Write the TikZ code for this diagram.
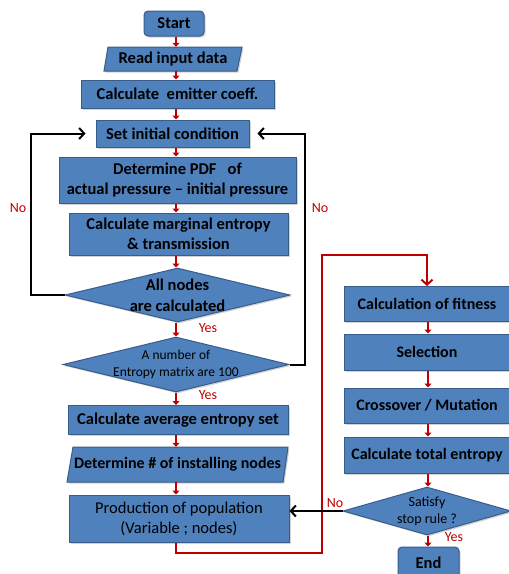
\documentclass[tikz,border=0pt]{standalone}
\usepackage{fontspec}
\setmainfont{Carlito}
\usetikzlibrary{shapes.geometric,arrows.meta,shadows,calc}
\definecolor{boxblue}{HTML}{4F81BD}
\definecolor{boxline}{HTML}{385D8A}
\definecolor{arrred}{HTML}{C00000}
\begin{document}
\begin{tikzpicture}[x=1pt,y=-1pt,
  shad/.style={drop shadow={opacity=0.35,shadow xshift=1.5pt,shadow yshift=-1.5pt}},
  box/.style={rectangle,draw=boxline,line width=1pt,fill=boxblue,inner sep=1pt,align=center,
    font=\bfseries\fontsize{16.5}{20.5}\selectfont,shad},
  term/.style={box,rounded corners=4pt},
  plain/.style={rectangle,inner sep=0pt,align=center,font=\bfseries\fontsize{16.5}{20}\selectfont},
  para/.style={draw=boxline,line width=1pt,fill=boxblue,shad},
  dia/.style={diamond,draw=boxline,fill=boxblue,line width=1pt,inner sep=0pt,aspect=4,shad},
  flow/.style={arrred,line width=2.2pt,-{Triangle[length=4pt,width=7pt]}},
  loopar/.style={black,line width=2pt,-{Straight Barb[length=5pt,width=11pt]}},
  redar/.style={arrred,line width=2pt,-{Straight Barb[length=5pt,width=11pt]}},
  lab/.style={text=arrred,font=\fontsize{14}{15}\selectfont,inner sep=0pt}]
\useasboundingbox (0,0) rectangle (509,574);
\fill[white] (0,0) rectangle (509,574);
% left column
\node[term,minimum width=60pt,minimum height=25pt] (start) at (174,23.5) {Start};
\draw[para] (108,47) -- (242,47) -- (237,71) -- (104,71) -- cycle;
\node[plain,minimum width=134pt,minimum height=24pt] (read) at (173,59) {Read input data};
\node[box,minimum width=193pt,minimum height=28pt] (emit) at (177.5,94) {Calculate\ \ emitter coeff.};
\node[box,minimum width=153pt,minimum height=27pt] (set) at (172.5,133.5) {Set initial condition};
\node[box,minimum width=237pt,minimum height=46pt] (pdf) at (177.5,180) {Determine PDF\ \ \ of\\actual pressure -- initial pressure};
\node[box,minimum width=219pt,minimum height=42pt] (marg) at (178.5,234) {Calculate marginal entropy\\\& transmission};
\node[dia,minimum width=225pt,minimum height=54pt] (d1) at (177.5,295) {};
\node[align=center,inner sep=0pt,font=\bfseries\fontsize{16.5}{21}\selectfont] (d1t) at (d1) {All nodes\\are calculated};
\node[dia,minimum width=226pt,minimum height=55pt] (d2) at (176,364.5) {};
\node[align=center,inner sep=0pt,font=\fontsize{13.5}{17}\selectfont] (d2t) at (d2) {A number of\\Entropy matrix are 100};
\node[box,minimum width=220pt,minimum height=29pt] (avg) at (178,420) {Calculate average entropy set};
\draw[para] (73,447) -- (288,447) -- (283,482) -- (67,482) -- cycle;
\node[plain,minimum width=216pt,minimum height=35pt,font=\bfseries\fontsize{16}{20}\selectfont] (det) at (177.5,464.5) {Determine \# of installing nodes};
\node[box,minimum width=220pt,minimum height=47pt,font=\fontsize{16.5}{20}\selectfont] (prod) at (179,518.5) {Production of population\\(Variable ; nodes)};
% right column
\node[box,minimum width=166pt,minimum height=35pt,font=\bfseries\fontsize{16}{20}\selectfont] (fit) at (427,304) {Calculation of fitness};
\node[box,minimum width=166pt,minimum height=36pt,font=\bfseries\fontsize{16}{20}\selectfont] (sel) at (427,352) {Selection};
\node[box,minimum width=166pt,minimum height=35pt,font=\bfseries\fontsize{16}{20}\selectfont] (cross) at (427,405.5) {Crossover / Mutation};
\node[box,minimum width=166pt,minimum height=36pt,font=\bfseries\fontsize{16}{20}\selectfont] (tot) at (427,455) {Calculate total entropy};
\node[dia,minimum width=168pt,minimum height=48pt] (sat) at (427,511) {};
\node[align=center,inner sep=0pt,font=\fontsize{14}{17}\selectfont] (satt) at (sat) {Satisfy\\stop rule ?};
\node[term,minimum width=61pt,minimum height=32pt] (end) at (428.5,563) {End};
% short red arrows
\coordinate (ax) at (176,0);
\coordinate (bx) at (428,0);
\draw[flow] (start.south -| ax) -- (read.north -| ax);
\draw[flow] (read.south -| ax) -- (emit.north -| ax);
\draw[flow] (emit.south -| ax) -- (set.north -| ax);
\draw[flow] (set.south -| ax) -- (pdf.north -| ax);
\draw[flow] (pdf.south -| ax) -- (marg.north -| ax);
\draw[flow] (marg.south -| ax) -- (d1.north -| ax);
\draw[flow] (d1.south -| ax) -- (d2.north -| ax);
\draw[flow] (d2.south -| ax) -- (avg.north -| ax);
\draw[flow] (avg.south -| ax) -- (det.north -| ax);
\draw[flow] (det.south -| ax) -- (prod.north -| ax);
\draw[flow] (fit.south -| bx) -- (sel.north -| bx);
\draw[flow] (sel.south -| bx) -- (cross.north -| bx);
\draw[flow] (cross.south -| bx) -- (tot.north -| bx);
\draw[flow] (tot.south -| bx) -- (sat.north -| bx);
\draw[flow] (sat.south -| bx) -- (end.north -| bx);
% loops
\coordinate (lc) at (31,133.5);
\coordinate (rc) at (305,133.5);
\draw[loopar] (d1.west) -| (lc) -- ([xshift=-10pt]set.west);
\draw[loopar] (d2.east) -| (rc) -- ([xshift=8pt]set.east);
\coordinate (rb) at (322,553);
\coordinate (rt) at (322,255);
\draw[redar] (prod.south -| ax) |- (rb) -- (rt) -| (fit.north);
\draw[loopar] (sat.west) -- (sat.west -| prod.east);
% labels
\node[lab] (no1) at (18,208) {No};
\node[lab] (no2) at (320,208) {No};
\node[lab] (no3) at (335,503) {No};
\node[lab] (yes1) at (208,328) {Yes};
\node[lab] (yes2) at (208,395) {Yes};
\node[lab] (yes3) at (454,537) {Yes};
\end{tikzpicture}
\end{document}
